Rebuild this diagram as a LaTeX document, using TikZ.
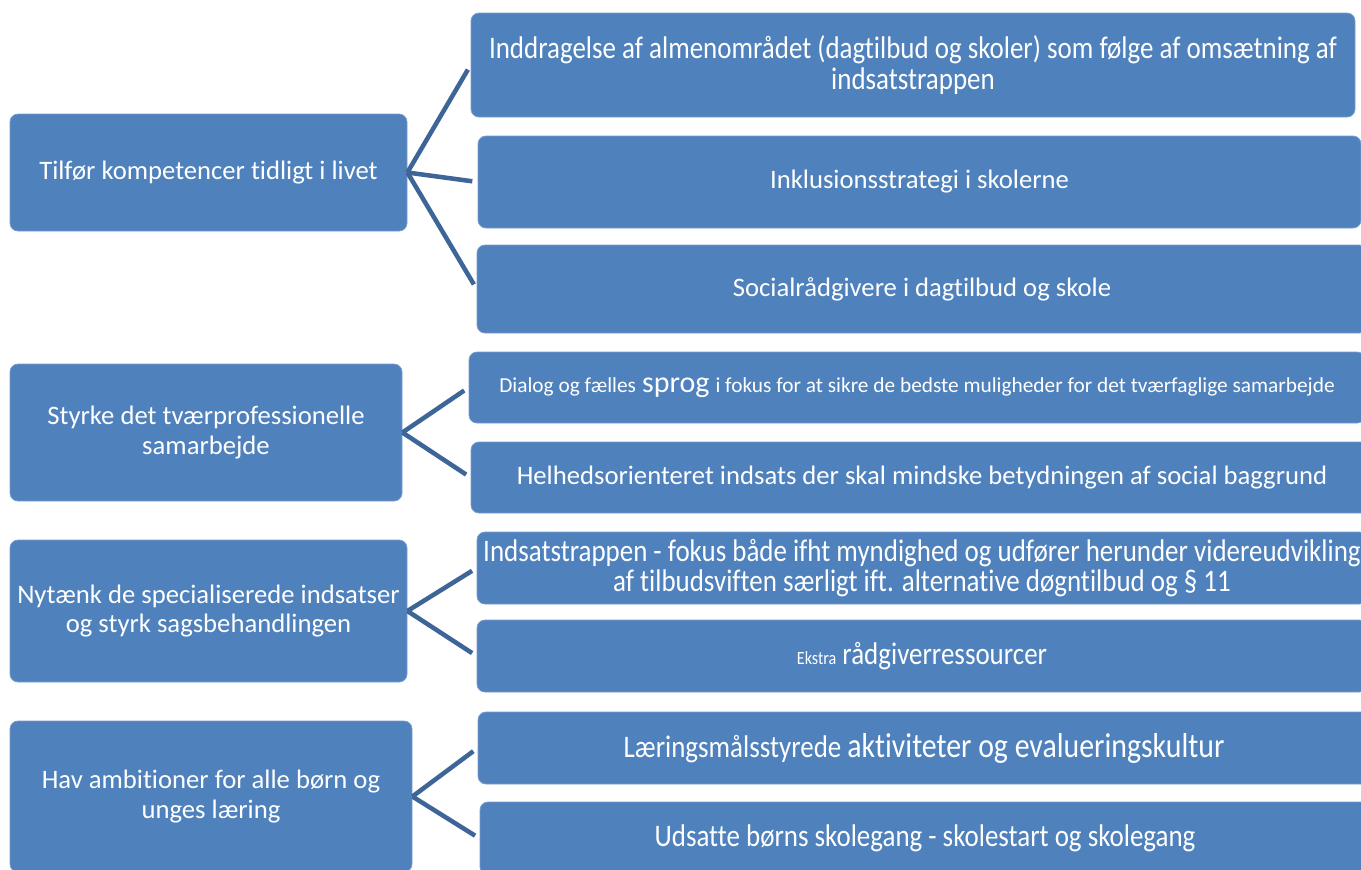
\documentclass[tikz,border=0pt]{standalone}
\usepackage{fontspec}
\setmainfont{Carlito}[Ligatures=NoCommon]
\newfontfamily\smal[FakeStretch=0.86, Ligatures=NoCommon]{Carlito}
\definecolor{boksblaa}{HTML}{4F81BD}
\definecolor{kantblaa}{HTML}{7B9DCB}
\definecolor{linjeblaa}{HTML}{3D6597}

\begin{document}
\begin{tikzpicture}[x=0.75pt, y=-0.75pt, boxsize/.style 2 args={minimum width=#1*0.75pt, minimum height=#2*0.75pt}]
	\tikzstyle{boks} = [rectangle, rounded corners=6pt, fill=boksblaa, draw=kantblaa, line width=0.6pt, text=white, align=center, inner sep=0pt, font=\fontsize{20}{22}\selectfont]
	\tikzstyle{smalboks} = [boks, font=\smal\fontsize{23.5}{23}\selectfont]
	\tikzstyle{link} = [draw=linjeblaa, line width=3.4pt, shorten >=4pt]

	\useasboundingbox (0,0) rectangle (1361,869);
	\clip (0,0) rectangle (1361,869);

	\node[boks, boxsize={397}{117}] (tilfor) at (208.5,172.5) {Tilfør kompetencer tidligt i livet};
	\node[boks, boxsize={392}{137}] (styrke) at (206,432.5) {Styrke det tværprofessionelle\\samarbejde};
	\node[boks, boxsize={397}{142}] (nytaenk) at (208.5,611) {Nytænk de specialiserede indsatser\\og styrk sagsbehandlingen};
	\node[boks, boxsize={402}{151}] (ambition) at (211,796.5) {Hav ambitioner for alle børn og\\unges læring};

	\node[smalboks, boxsize={884}{104}] (inddrag) at (913,65) {Inddragelse af almenområdet (dagtilbud og skoler) som følge af omsætning af\\indsatstrappen};
	\node[boks, boxsize={883}{92}] (inklusion) at (919.5,182) {Inklusionsstrategi i skolerne};
	\node[boks, boxsize={890}{88}] (social) at (922,289) {Socialrådgivere i dagtilbud og skole};

	\node[boks, boxsize={896}{71}] (dialog) at (917,387.5) {{\fontsize{16}{18}\selectfont Dialog og fælles} {\fontsize{22.5}{24}\selectfont sprog} {\fontsize{16}{18}\selectfont i fokus for at sikre de bedste muligheder for det tværfaglige samarbejde}};
	\node[boks, boxsize={902}{71}] (helhed) at (922,477.5) {Helhedsorienteret indsats der skal mindske betydningen af social baggrund};

	\node[smalboks, boxsize={890}{72}] (indsats) at (922,568) {Indsatstrappen - fokus både ifht myndighed og udfører herunder videreudvikling\\af tilbudsviften særligt ift. alternative døgntilbud og § 11};
	\node[smalboks, boxsize={890}{72}] (ekstra) at (922,656) {{\fontsize{14}{16}\selectfont Ekstra} rådgiverressourcer};

	\node[smalboks, boxsize={892}{72}] (laering) at (924,748) {Læringsmålsstyrede {\fontsize{26}{28}\selectfont aktiviteter og evalueringskultur}};
	\node[smalboks, boxsize={890}{73}] (udsatte) at (925,838.5) {Udsatte børns skolegang - skolestart og skolegang};

	\foreach \from/\to in {tilfor/inddrag, tilfor/inklusion, tilfor/social, styrke/dialog, styrke/helhed, nytaenk/indsats, nytaenk/ekstra, ambition/laering, ambition/udsatte}
		\draw[link] (\from.east) -- (\to.west);
\end{tikzpicture}
\end{document}
